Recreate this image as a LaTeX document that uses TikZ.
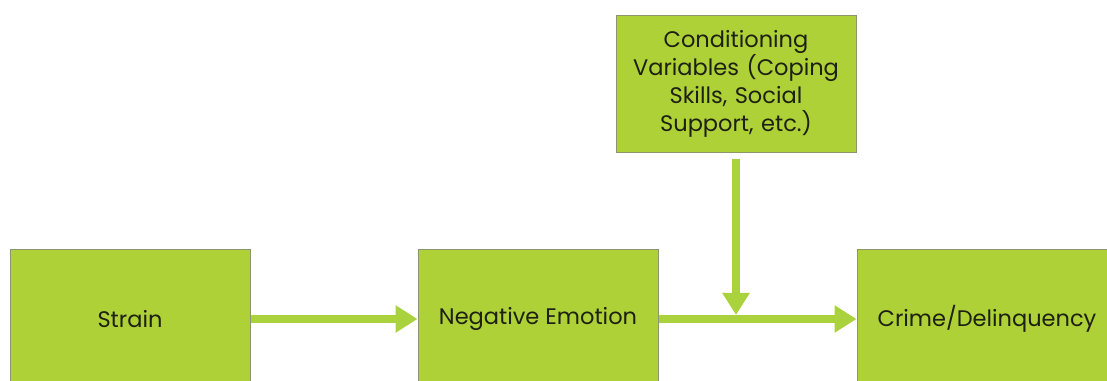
\documentclass[tikz,border=0pt]{standalone}
\usepackage{fontspec}
\setmainfont{Poppins}
\usepackage{xcolor}
\usetikzlibrary{arrows.meta,positioning}

\definecolor{boxgreen}{RGB}{173,209,54}
\definecolor{boxedge}{RGB}{140,150,110}
\definecolor{arrowgreen}{RGB}{170,210,60}
\definecolor{textdark}{RGB}{30,32,20}

\begin{document}
\begin{tikzpicture}[
    x=1pt, y=1pt,
    node distance=167pt,
    box/.style={
        rectangle, draw=boxedge, fill=boxgreen, line width=1pt,
        minimum width=240pt, minimum height=138pt,
        text=textdark, font=\fontsize{22.5}{28}\selectfont,
        align=center, inner sep=0pt
    },
    flow/.style={
        draw=arrowgreen, line width=8pt,
        -{Triangle[length=22pt, width=26pt]}
    }
]
    \useasboundingbox (0,0) rectangle (1107,380);
    \clip (0,0) rectangle (1107,380);

    % Main chain
    \node [box] (strain) at (130,61) {Strain};
    \node [box, right=of strain] (negemo) {Negative Emotion};
    \node [box, minimum width=260pt, right=198pt of negemo] (crime) {Crime/Delinquency};

    % Moderator
    \node [box, minimum height=137pt, text width=228pt] (cond) at (736,296)
        {Conditioning\\Variables (Coping\\Skills, Social\\Support, etc.)};
    \coordinate (join) at (cond.south |- negemo.east);

    % Arrows
    \draw [flow] (strain.east) -- (negemo.west);
    \draw [flow] (negemo.east) -- (crime.west);
    \draw [flow, shorten <=6pt, shorten >=4pt] (cond.south) -- (join);

\end{tikzpicture}
\end{document}
